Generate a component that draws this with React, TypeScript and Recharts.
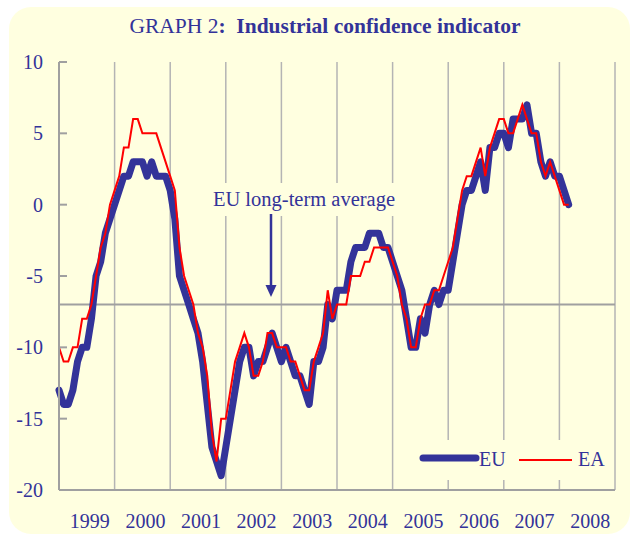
import { ComposedChart, Line, XAxis, YAxis, ReferenceLine } from 'recharts'

// monthly values, Jan 1999 .. Mar 2008
const euValues = [
  -13, -14, -14, -13, -11, -10, -10, -8, -5, -4, -2, -1,
  0, 1, 2, 2, 3, 3, 3, 2, 3, 2, 2, 2,
  1, -1, -5, -6, -7, -8, -9, -11, -14, -17, -18, -19,
  -17, -15, -13, -11, -10, -10, -12, -11, -11, -10, -9, -10,
  -11, -10, -11, -12, -12, -13, -14, -11, -11, -10, -7, -8,
  -6, -6, -6, -4, -3, -3, -3, -2, -2, -2, -3, -3,
  -4, -5, -6, -8, -10, -10, -8, -9, -7, -6, -7, -6,
  -6, -4, -2, 0, 1, 1, 2, 3, 1, 4, 4, 5,
  5, 4, 6, 6, 6, 7, 5, 5, 3, 2, 3, 2,
  2, 1, 0,
]

const eaValues = [
  -10, -11, -11, -10, -10, -8, -8, -7, -5, -3, -2, 0,
  1, 2, 4, 4, 6, 6, 5, 5, 5, 5, 4, 3,
  2, 1, -3, -5, -6, -7, -9, -10, -12, -16, -18, -15,
  -15, -13, -11, -10, -9, -10, -12, -12, -11, -9, -9, -10,
  -10, -10, -11, -11, -12, -13, -13, -11, -10, -9, -6, -8,
  -7, -7, -7, -5, -5, -5, -4, -4, -3, -3, -3, -3,
  -4, -5, -7, -8, -10, -10, -8, -7, -7, -6, -6, -5,
  -4, -3, -1, 1, 2, 2, 3, 4, 2, 4, 5, 6,
  6, 5, 5, 6, 7, 6, 5, 5, 3, 2, 3, 2,
  1, 0, 0,
]

const years = ['1999', '2000', '2001', '2002', '2003', '2004', '2005', '2006', '2007', '2008']
const yTicks = [-20, -15, -10, -5, 0, 5, 10]
const longTermAverage = -7

const data = euValues.map((eu, i) => ({ month: i, eu, ea: eaValues[i] }))
const yearEnds = years.map((_, k) => (k + 1) * 12)
const yearMids = years.map((_, k) => k * 12 + 6)

const NAVY = '#333399'
const BG = '#FFFFE0'
const GRID = '#B4B4B4'
const AXIS = '#A0A0A0'
const FONT = '"Liberation Serif", "Times New Roman", serif'

const YTick = ({ x, y, payload }: any) => (
  <g>
    <line x1={x + 14} x2={x + 22} y1={y} y2={y} stroke={AXIS} strokeWidth={2} />
    <text x={x - 2} y={y} dy={7} textAnchor="end" fill={NAVY} fontSize={20} fontFamily={FONT}>
      {payload.value}
    </text>
  </g>
)

export default function App() {
  return (
    <div style={{ position: 'absolute', left: 0, top: 0, width: 632, height: 535, background: '#fff', fontFamily: FONT }}>
      <div style={{ position: 'absolute', left: 9, top: 7, width: 621, height: 527, background: BG, borderRadius: 22 }} />
      <div style={{ position: 'absolute', left: 18, top: 14, width: 614, textAlign: 'center', color: NAVY, fontSize: 21.5 }}>
        GRAPH 2<b>:&nbsp; Industrial confidence indicator</b>
      </div>

      <div style={{ position: 'absolute', left: 0, top: 0 }}>
        <ComposedChart width={632} height={535} data={data} margin={{ top: 62, right: 17, bottom: 0, left: 0 }}>
          <XAxis
            type="number"
            dataKey="month"
            domain={[0, 120]}
            ticks={yearMids}
            interval={0}
            tickFormatter={(v) => years[(v - 6) / 12]}
            axisLine={{ stroke: AXIS, strokeWidth: 2 }}
            tickLine={false}
            tickSize={0}
            tickMargin={24}
            height={45}
            tick={{ fill: NAVY, fontSize: 20, fontFamily: FONT, dx: 3 }}
          />
          <YAxis
            domain={[-20, 10]}
            ticks={yTicks}
            interval={0}
            width={59}
            tickSize={0}
            tickMargin={14}
            tickLine={false}
            axisLine={{ stroke: AXIS, strokeWidth: 2 }}
            tick={<YTick />}
          />
          {yearEnds.map((m) => (
            <ReferenceLine key={m} x={m} stroke={GRID} strokeWidth={1.5} />
          ))}
          <ReferenceLine y={longTermAverage} stroke={AXIS} strokeWidth={2} />
          <Line
            dataKey="eu"
            type="linear"
            stroke={NAVY}
            strokeWidth={7}
            strokeLinecap="round"
            strokeLinejoin="round"
            dot={false}
            isAnimationActive={false}
          />
          <Line dataKey="ea" type="linear" stroke="#FF0000" strokeWidth={2} dot={false} isAnimationActive={false} />
        </ComposedChart>
      </div>

      {/* annotation */}
      <div
        style={{
          position: 'absolute', left: 204, top: 183, width: 200, height: 33, background: BG,
          color: NAVY, fontSize: 20.5, textAlign: 'center', lineHeight: '33px', whiteSpace: 'nowrap',
        }}
      >
        EU long-term average
      </div>
      <svg style={{ position: 'absolute', left: 0, top: 0 }} width={632} height={535} pointerEvents="none">
        <line x1={271} x2={271} y1={214} y2={288} stroke={NAVY} strokeWidth={2.5} />
        <polygon points="265.5,285 276.5,285 271,297" fill={NAVY} />
      </svg>

      {/* legend */}
      <div style={{ position: 'absolute', left: 414, top: 440, width: 198, height: 40, background: BG }}>
        <svg width={198} height={40}>
          <line x1={9} x2={62} y1={18} y2={18} stroke={NAVY} strokeWidth={7} strokeLinecap="round" />
          <text x={65} y={26} fill={NAVY} fontSize={20} fontFamily={FONT}>EU</text>
          <line x1={105} x2={158} y1={20} y2={20} stroke="#FF0000" strokeWidth={2} />
          <text x={164} y={26} fill={NAVY} fontSize={20} fontFamily={FONT}>EA</text>
        </svg>
      </div>
    </div>
  )
}
